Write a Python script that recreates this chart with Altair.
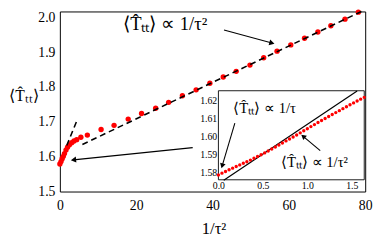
import math
import altair as alt
import pandas as pd

# ---------------- data ----------------
main_x = [0.0, 0.3, 0.6, 0.9, 1.2, 1.6, 2.0, 2.5, 3.1, 3.7, 4.4, 5.5, 7.2,
          10.8, 14.2, 17.9, 21.4, 25.1, 28.5, 32.1, 35.7, 39.3, 42.8, 46.2,
          49.8, 53.4, 56.9, 60.5, 64.1, 67.6, 71.0, 74.7, 78.2]
main_y = [1.579, 1.586, 1.594, 1.601, 1.609, 1.619, 1.627, 1.634, 1.640, 1.645,
          1.649, 1.656, 1.662, 1.678, 1.690, 1.708, 1.724, 1.739, 1.756, 1.775,
          1.792, 1.811, 1.829, 1.845, 1.863, 1.884, 1.903, 1.921, 1.940, 1.958,
          1.976, 1.995, 2.015]

fit_long_x = [5.9, 79.0]
fit_long_y = [1.635, 2.017]
fit_steep_x = [1.8, 4.4]
fit_steep_y = [1.632, 1.702]

inset_x = [0.00, 0.04, 0.08, 0.12, 0.16, 0.20, 0.24, 0.28, 0.32, 0.36, 0.40,
           0.44, 0.48, 0.52, 0.56, 0.60, 0.64, 0.68, 0.72, 0.76, 0.80, 0.84,
           0.88, 0.92, 0.96, 1.00, 1.04, 1.08, 1.12, 1.16, 1.20, 1.24, 1.28,
           1.32, 1.36, 1.40, 1.44, 1.48, 1.52, 1.56, 1.60, 1.64]
inset_y = [1.5787, 1.5797, 1.5806, 1.5816, 1.5825, 1.5834, 1.5843, 1.5852,
           1.5861, 1.5870, 1.5880, 1.5890, 1.5900, 1.5910, 1.5921, 1.5932,
           1.5943, 1.5954, 1.5965, 1.5977, 1.5988, 1.5999, 1.6010, 1.6022,
           1.6034, 1.6045, 1.6057, 1.6068, 1.6080, 1.6091, 1.6102, 1.6113,
           1.6124, 1.6135, 1.6146, 1.6157, 1.6168, 1.6179, 1.6189, 1.6200,
           1.6210, 1.6220]
inset_fit_x = [0.06, 1.56]
inset_fit_y = [1.5758, 1.6255]

main_x_domain = [0, 80]
main_y_domain = [1.5, 2.017]
main_x_ticks = [0, 20, 40, 60, 80]
main_y_ticks = [1.5, 1.6, 1.7, 1.8, 1.9, 2.0]

inset_x_domain = [0, 1.64]
inset_y_domain = [1.576, 1.6257]
inset_x_ticks = [0.0, 0.5, 1.0, 1.5]
inset_y_ticks = [1.58, 1.59, 1.60, 1.61, 1.62]

LBL = "\u27e8T\u0302\u209c\u209c\u27e9 \u221d 1/\u03c4"
main_text = [LBL + "\u00b2"]
main_text_x = [27.6]
main_text_y = [1.980]
inset_text = [LBL, LBL + "\u00b2"]
inset_text_x = [0.52, 1.08]
inset_text_y = [1.6158, 1.5860]

# arrows: start x, start y, tip x, tip y
main_arrows = [(43.0, 1.9635, 56.3, 1.924), (34.8, 1.626, 2.8, 1.590)]
inset_arrows = [(0.185, 1.6076, 0.033, 1.5822), (1.145, 1.5923, 0.928, 1.6013)]

# ---------------- geometry ----------------
W, H = 312, 184
IX_RANGE = [162, 311]
IY_RANGE = [172, 81]
FONT = "Liberation Serif"


def arrow_frames(arrs, kx, ky):
    shafts, heads = [], []
    for (x1, y1, x2, y2) in arrs:
        dx = (x2 - x1) * kx
        dy = -(y2 - y1) * ky
        ang = math.degrees(math.atan2(dy, dx)) % 360
        L = math.hypot(dx, dy)
        ux, uy = dx / L, dy / L
        back = 3.0
        hx = x2 - back * ux / kx
        hy = y2 + back * uy / ky
        shafts.append({"x": x1, "y": y1, "x2": hx, "y2": hy})
        heads.append({"x": hx, "y": hy, "a": ang})
    return pd.DataFrame(shafts), pd.DataFrame(heads)


mkx = W / (main_x_domain[1] - main_x_domain[0])
mky = H / (main_y_domain[1] - main_y_domain[0])
ikx = (IX_RANGE[1] - IX_RANGE[0]) / (inset_x_domain[1] - inset_x_domain[0])
iky = (IY_RANGE[0] - IY_RANGE[1]) / (inset_y_domain[1] - inset_y_domain[0])

m_shaft, m_head = arrow_frames(main_arrows, mkx, mky)
i_shaft, i_head = arrow_frames(inset_arrows, ikx, iky)

# ---------------- scales & axes ----------------
mxs = alt.Scale(domain=main_x_domain, nice=False, zero=False)
mys = alt.Scale(domain=main_y_domain, nice=False, zero=False)
ixs = alt.Scale(domain=inset_x_domain, range=IX_RANGE, nice=False, zero=False)
iys = alt.Scale(domain=inset_y_domain, range=IY_RANGE, nice=False, zero=False)

main_xaxis = alt.Axis(
    orient="bottom", values=main_x_ticks, format="d", grid=False, ticks=False, domain=False,
    labelFont=FONT, labelFontSize=14, labelColor="black", labelPadding=7,
    labelFlush=False, labelOverlap=False,
    title="1/\u03c4\u00b2", titleFont=FONT, titleFontSize=17,
    titleFontWeight="normal", titleColor="black",
    titleX=157, titleY=38, titleAlign="center", titleBaseline="middle")
main_yaxis = alt.Axis(
    orient="left", values=main_y_ticks, format=".1f", grid=False, ticks=False, domain=False,
    labelFont=FONT, labelFontSize=14, labelColor="black", labelPadding=5,
    labelOverlap=False, labelFlush=False,
    title="\u27e8T\u0302\u209c\u209c\u27e9", titleFont=FONT, titleFontSize=16,
    titleFontWeight="normal", titleColor="black", titleAngle=0,
    titleX=-37, titleY=86, titleAlign="center", titleBaseline="middle")
inset_xaxis = alt.Axis(
    orient="bottom", offset=-11.7, values=inset_x_ticks, format=".1f", grid=False,
    ticks=False, domain=False, labelFont=FONT, labelFontSize=10, labelColor="black",
    labelPadding=1, labelFlush=False, labelOverlap=False, title=None)
inset_yaxis = alt.Axis(
    orient="left", offset=-162.3, values=inset_y_ticks, format=".2f", grid=False,
    ticks=False, domain=False, labelFont=FONT, labelFontSize=10, labelColor="black",
    labelPadding=2, labelFlush=False, labelOverlap=False, title=None)


def MX(f="x"):
    return alt.X(f + ":Q", scale=mxs, axis=main_xaxis)


def MY(f="y"):
    return alt.Y(f + ":Q", scale=mys, axis=main_yaxis)


def IX(f="x"):
    return alt.X(f + ":Q", scale=ixs, axis=inset_xaxis)


def IY(f="y"):
    return alt.Y(f + ":Q", scale=iys, axis=inset_yaxis)


# ---------------- main layer ----------------
main_df = pd.DataFrame({"x": main_x, "y": main_y})
main_pts = alt.Chart(main_df).mark_circle(color="#ff0000", size=30, opacity=1).encode(
    x=MX(), y=MY())

fit_df = pd.DataFrame({
    "x": fit_long_x + fit_steep_x,
    "y": fit_long_y + fit_steep_y,
    "g": ["long", "long", "steep", "steep"],
})
main_fit = alt.Chart(fit_df).mark_line(color="black", strokeWidth=1.6, strokeDash=[6, 4]).encode(
    x=MX(), y=MY(), detail="g:N")

main_lab = alt.Chart(pd.DataFrame({"x": main_text_x, "y": main_text_y, "t": main_text})).mark_text(
    font=FONT, fontSize=19, color="black", align="center", baseline="middle").encode(
    x=MX(), y=MY(), text="t:N")

main_shaft = alt.Chart(m_shaft).mark_rule(color="black", strokeWidth=1.1).encode(
    x=MX(), y=MY(), x2="x2:Q", y2="y2:Q")
main_head = alt.Chart(m_head).mark_point(shape="triangle-right", filled=True, color="black",
                                         size=38, opacity=1).encode(
    x=MX(), y=MY(), angle=alt.Angle("a:Q", scale=None))

main_layer = alt.layer(main_pts, main_fit, main_lab, main_shaft, main_head)

# ---------------- inset layer ----------------
frame_df = pd.DataFrame({"x": [inset_x_domain[0]], "x2": [inset_x_domain[1]],
                         "y": [inset_y_domain[0]], "y2": [inset_y_domain[1]]})
inset_frame = alt.Chart(frame_df).mark_rect(fill="white", stroke="black", strokeWidth=0.9).encode(
    x=IX(), y=IY(), x2="x2:Q", y2="y2:Q")

ifit_df = pd.DataFrame({"x": inset_fit_x, "y": inset_fit_y})
inset_fit = alt.Chart(ifit_df).mark_line(color="black", strokeWidth=1.2).encode(x=IX(), y=IY())

inset_df = pd.DataFrame({"x": inset_x, "y": inset_y})
inset_pts = alt.Chart(inset_df).mark_circle(color="#ff0000", size=12, opacity=1).encode(
    x=IX(), y=IY())

inset_lab = alt.Chart(pd.DataFrame({"x": inset_text_x, "y": inset_text_y, "t": inset_text})).mark_text(
    font=FONT, fontSize=15, color="black", align="center", baseline="middle").encode(
    x=IX(), y=IY(), text="t:N")

inset_shaft = alt.Chart(i_shaft).mark_rule(color="black", strokeWidth=1.1).encode(
    x=IX(), y=IY(), x2="x2:Q", y2="y2:Q")
inset_head = alt.Chart(i_head).mark_point(shape="triangle-right", filled=True, color="black",
                                          size=34, opacity=1).encode(
    x=IX(), y=IY(), angle=alt.Angle("a:Q", scale=None))

inset_layer = alt.layer(inset_frame, inset_fit, inset_pts, inset_lab, inset_shaft, inset_head)

chart = alt.layer(main_layer, inset_layer).resolve_scale(
    x="independent", y="independent"
).resolve_axis(
    x="independent", y="independent"
).properties(
    width=W, height=H,
    background="white",
    autosize=alt.AutoSizeParams(type="none"),
    padding={"left": 53, "top": 1, "right": 10, "bottom": 48},
).configure_view(stroke="black", strokeWidth=1)

chart.save("out.html", embed_options={"renderer": "svg", "actions": False})
